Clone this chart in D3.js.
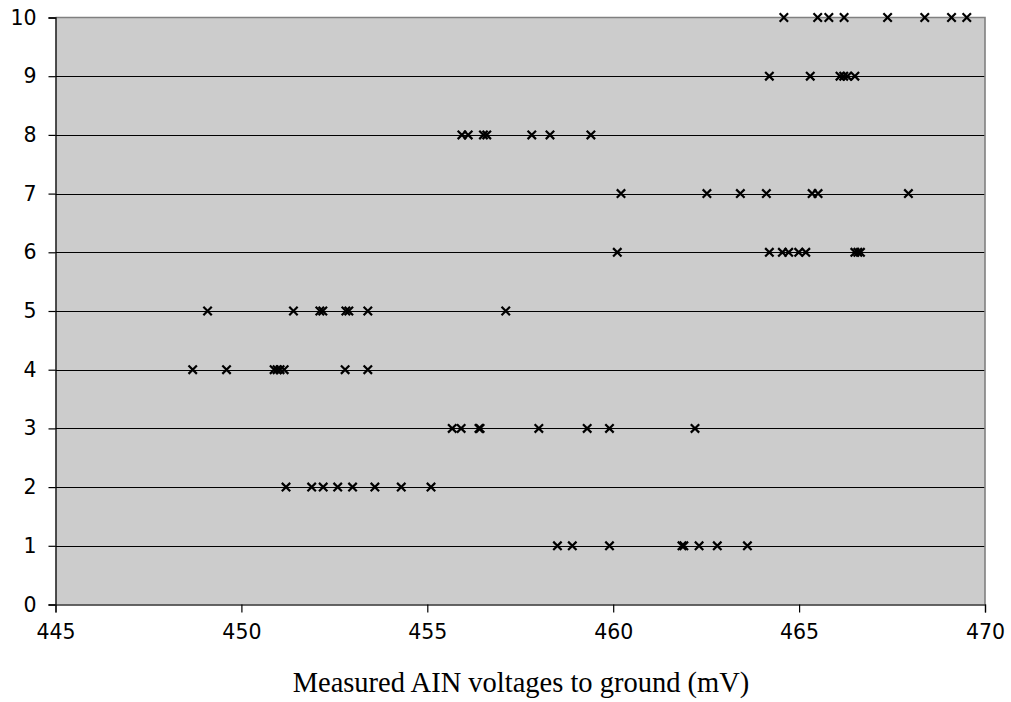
<!DOCTYPE html>
<html>
<head>
<meta charset="utf-8">
<script src="https://cdn.jsdelivr.net/npm/d3@7"></script>
<style>
  html, body { margin: 0; padding: 0; background: #ffffff; }
  svg { display: block; }
</style>
</head>
<body>
<script>
// AIN channel index (vertical position) and the voltages measured on each one
const channels = [1, 2, 3, 4, 5, 6, 7, 8, 9, 10];
const ain1  = [458.50, 458.90, 459.90, 461.85, 461.90, 462.31, 462.80, 463.61];
const ain2  = [451.20, 451.89, 452.20, 452.59, 452.99, 453.59, 454.30, 455.10];
const ain3  = [455.67, 455.91, 456.39, 456.42, 458.00, 459.30, 459.90, 462.20];
const ain4  = [448.69, 449.60, 450.88, 450.96, 451.04, 451.15, 452.79, 453.40];
const ain5  = [449.09, 451.40, 452.11, 452.19, 452.81, 452.89, 453.40, 457.11];
const ain6  = [460.11, 464.20, 464.55, 464.72, 464.99, 465.18, 466.50, 466.58, 466.65];
const ain7  = [460.21, 462.52, 463.42, 464.12, 465.35, 465.51, 467.94];
const ain8  = [455.93, 456.10, 456.51, 456.60, 457.81, 458.30, 459.40];
const ain9  = [464.20, 465.30, 466.10, 466.20, 466.30, 466.50];
const ain10 = [464.59, 465.50, 465.80, 466.21, 467.38, 468.38, 469.10, 469.51];
const voltages = [ain1, ain2, ain3, ain4, ain5, ain6, ain7, ain8, ain9, ain10];

const xTicks = [445, 450, 455, 460, 465, 470];
const yTicks = [0, 1, 2, 3, 4, 5, 6, 7, 8, 9, 10];
const xTitle = "Measured AIN voltages to ground (mV)";

const points = [];
channels.forEach((c, i) => voltages[i].forEach(v => points.push({ x: v, y: c })));

const W = 1011, H = 702;
const plot = { left: 55.5, right: 985, top: 17.5, bottom: 604.5 };

const svg = d3.select("body").append("svg")
  .attr("width", W).attr("height", H);

const x = d3.scaleLinear().domain([445, 470]).range([plot.left, plot.right]);
const y = d3.scaleLinear().domain([0, 10]).range([plot.bottom, plot.top]);

// plot area fill
svg.append("rect")
  .attr("x", plot.left).attr("y", plot.top)
  .attr("width", plot.right - plot.left).attr("height", plot.bottom - plot.top)
  .attr("fill", "#cccccc");

// horizontal gridlines
svg.append("g").selectAll("line")
  .data(yTicks.filter(t => t > 0 && t < 10))
  .join("line")
  .attr("x1", plot.left).attr("x2", plot.right)
  .attr("y1", d => Math.round(y(d)) + 0.5).attr("y2", d => Math.round(y(d)) + 0.5)
  .attr("stroke", "#000000").attr("stroke-width", 1);

// top and right borders of the plot area
svg.append("path")
  .attr("d", `M${plot.left},${plot.top} H${plot.right} V${plot.bottom}`)
  .attr("fill", "none").attr("stroke", "#808080").attr("stroke-width", 1.6);

// y axis
const yAxis = d3.axisLeft(y).tickValues(yTicks).tickSize(7).tickPadding(12)
  .tickFormat(d3.format("d"));
const gy = svg.append("g").attr("transform", `translate(${plot.left},0)`).call(yAxis);
gy.select(".domain").attr("stroke", "#000000").attr("stroke-width", 1.3);
gy.selectAll(".tick line").attr("stroke", "#000000").attr("stroke-width", 1.2);
gy.selectAll(".tick text")
  .attr("font-family", "'DejaVu Sans', Verdana, sans-serif")
  .attr("font-size", 20.5).attr("fill", "#000000");

// x axis
const xAxis = d3.axisBottom(x).tickValues(xTicks).tickSize(8).tickPadding(12)
  .tickFormat(d3.format("d"));
const gx = svg.append("g").attr("transform", `translate(0,${plot.bottom})`).call(xAxis);
gx.select(".domain").attr("stroke", "#333333").attr("stroke-width", 1.3);
gx.selectAll(".tick line").attr("stroke", "#000000").attr("stroke-width", 1.2);
gx.selectAll(".tick text")
  .attr("font-family", "'DejaVu Sans', Verdana, sans-serif")
  .attr("font-size", 20.5).attr("fill", "#000000");

// x axis title
svg.append("text")
  .attr("x", 521).attr("y", 692)
  .attr("text-anchor", "middle")
  .attr("font-family", "'Liberation Serif', 'Times New Roman', serif")
  .attr("font-size", 28.5)
  .attr("fill", "#000000")
  .text(xTitle);

// x-shaped markers
const r = 4.2;
svg.append("g").selectAll("path")
  .data(points)
  .join("path")
  .attr("transform", d => `translate(${x(d.x)},${y(d.y)})`)
  .attr("d", `M${-r},${-r}L${r},${r}M${-r},${r}L${r},${-r}`)
  .attr("stroke", "#000000").attr("stroke-width", 2.2)
  .attr("fill", "none");
</script>
</body>
</html>
